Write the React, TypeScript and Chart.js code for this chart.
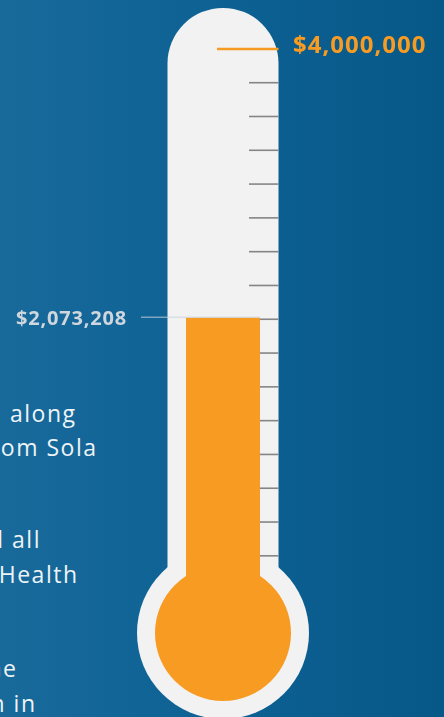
import React, { useEffect, useRef } from "react";
import { Chart, registerables } from "chart.js";

Chart.register(...registerables);

// ---- data ----
const categories = ["Raised"];
const raisedValues = [2073208];
const goalValues = [4000000];
const tickValues = [
  3758000, 3516000, 3274000, 3032000, 2790000, 2548000, 2306000, 2064000,
  1822000, 1580000, 1338000, 1096000, 854000, 612000, 370000,
];
const paragraphLines = ["along", "om Sola", "d all", "Health", "ne", "n in"];
const paragraphBaselines = [422, 456, 548, 583, 677, 712];
const paragraphRightEdges = [76.5, 97.5, 41, 78.5, 17.5, 36.5];

const ORANGE = "#F89B23";
const TUBE = "#F2F2F2";
const TICK = "#858585";
const VALUE_LABEL = "#CFD6DD";
const FONT = '"Open Sans", "Noto Sans", sans-serif';

const fmt = (v: number) => "$" + v.toLocaleString("en-US");

const thermoPlugin = {
  id: "thermo",
  beforeDatasetsDraw(chart: any) {
    const { ctx, chartArea, scales } = chart;
    const y = scales.y;
    const cx = (chartArea.left + chartArea.right) / 2;
    const tw = 55.5;
    const tubeTop = y.getPixelForValue(goalValues[0]) - 41;
    const bulbCy = y.getPixelForValue(0) + 25.5;
    ctx.save();
    ctx.fillStyle = TUBE;
    ctx.beginPath();
    ctx.moveTo(cx - tw, bulbCy);
    ctx.lineTo(cx - tw, tubeTop + tw);
    ctx.arc(cx, tubeTop + tw, tw, Math.PI, 0);
    ctx.lineTo(cx + tw, bulbCy);
    ctx.closePath();
    ctx.fill();
    ctx.beginPath();
    ctx.arc(cx, bulbCy, 86, 0, Math.PI * 2);
    ctx.fill();
    ctx.fillStyle = ORANGE;
    ctx.beginPath();
    ctx.arc(cx, bulbCy, 68, 0, Math.PI * 2);
    ctx.fill();
    // tick marks
    ctx.strokeStyle = TICK;
    ctx.lineWidth = 1.6;
    tickValues.forEach((v) => {
      const py = y.getPixelForValue(v);
      ctx.beginPath();
      ctx.moveTo(cx + 26, py);
      ctx.lineTo(cx + tw, py);
      ctx.stroke();
    });
    ctx.restore();
  },
  afterDatasetsDraw(chart: any) {
    const { ctx, chartArea, scales } = chart;
    const y = scales.y;
    const cx = (chartArea.left + chartArea.right) / 2;
    const tw = 55.5;
    ctx.save();
    // goal line + label
    const gy = y.getPixelForValue(goalValues[0]);
    ctx.strokeStyle = ORANGE;
    ctx.lineWidth = 2.5;
    ctx.beginPath();
    ctx.moveTo(cx - 6, gy);
    ctx.lineTo(cx + tw, gy);
    ctx.stroke();
    ctx.fillStyle = ORANGE;
    ctx.font = `bold 24px ${FONT}`;
    (ctx as any).letterSpacing = "1px";
    ctx.textAlign = "left";
    ctx.textBaseline = "alphabetic";
    ctx.fillText(fmt(goalValues[0]), cx + 70, gy + 4.5);
    // raised line + label
    const vy = y.getPixelForValue(raisedValues[0]) - 0.8;
    ctx.strokeStyle = "rgba(200,210,220,0.9)";
    ctx.lineWidth = 1;
    ctx.beginPath();
    ctx.moveTo(cx - 82, vy);
    ctx.lineTo(chartArea.right, vy);
    ctx.stroke();
    ctx.fillStyle = VALUE_LABEL;
    ctx.font = `bold 20px ${FONT}`;
    (ctx as any).letterSpacing = "0.8px";
    ctx.textAlign = "right";
    ctx.fillText(fmt(raisedValues[0]), cx - 96, vy + 8);
    ctx.restore();
  },
};

export default function App() {
  const canvasRef = useRef<HTMLCanvasElement | null>(null);

  useEffect(() => {
    if (!canvasRef.current) return;
    const chart = new Chart(canvasRef.current, {
      type: "bar",
      data: {
        labels: categories,
        datasets: [
          {
            data: raisedValues,
            backgroundColor: ORANGE,
            borderWidth: 0,
            barPercentage: 1,
            categoryPercentage: 1,
          },
        ],
      },
      options: {
        animation: false,
        responsive: true,
        maintainAspectRatio: false,
        layout: { padding: { top: 48.9, bottom: 109.5, left: 186, right: 184 } },
        plugins: { legend: { display: false }, tooltip: { enabled: false } },
        scales: {
          x: { display: false },
          y: { display: false, min: 0, max: goalValues[0] },
        },
      },
      plugins: [thermoPlugin],
    });
    return () => chart.destroy();
  }, []);

  return (
    <div
      style={{
        position: "fixed",
        left: 0,
        top: 0,
        width: 444,
        height: 717,
        overflow: "hidden",
        background: "linear-gradient(to right, #186a9b 0%, #0d6193 50%, #065887 100%)",
      }}
    >
      {paragraphLines.map((t, i) => (
        <div
          key={i}
          style={{
            position: "absolute",
            right: 444 - paragraphRightEdges[i],
            top: paragraphBaselines[i] - 20.4,
            fontFamily: FONT,
            fontSize: 23,
            lineHeight: "23px",
            letterSpacing: "1.5px",
            color: "#EEF3F7",
            whiteSpace: "nowrap",
          }}
        >
          {t}
        </div>
      ))}
      <div style={{ position: "absolute", left: 0, top: 0, width: 444, height: 717 }}>
        <canvas ref={canvasRef} />
      </div>
    </div>
  );
}
